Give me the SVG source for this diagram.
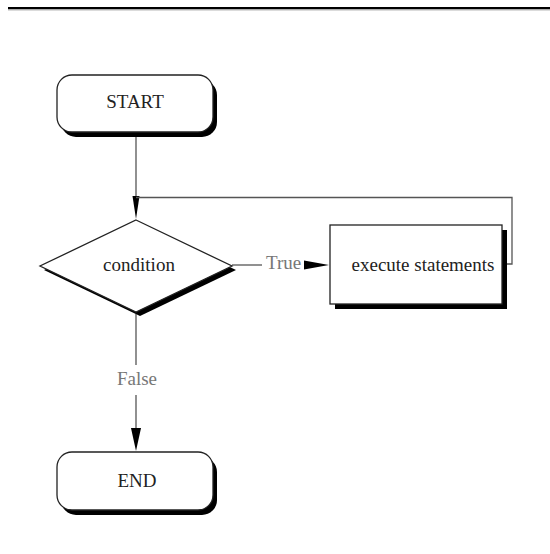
<svg xmlns="http://www.w3.org/2000/svg" width="550" height="554" viewBox="0 0 550 554">
  <style>
    .shadow { fill: #000; stroke: none; }
    .box { fill: #fff; stroke: #222; stroke-width: 1.3; }
    .label { font-family: "Liberation Serif", "Times New Roman", serif; font-size: 19px; fill: #222; text-anchor: middle; }
    .cond { font-family: "Liberation Serif", "Times New Roman", serif; font-size: 19px; fill: #777; }
    .wire { fill: none; stroke: #555; stroke-width: 1.3; }
    .head { fill: #000; stroke: none; }
  </style>

  <!-- page rule -->
  <line x1="8" y1="8" x2="550" y2="8" stroke="#000" stroke-width="2"/>
  <line x1="8" y1="9.8" x2="550" y2="9.8" stroke="#888" stroke-width="1"/>

  <g id="connectors">
    <!-- START to condition -->
    <line class="wire" x1="136" y1="132" x2="136" y2="200"/>
    <polygon class="head" points="132.5,196 139.5,196 136,219"/>
    <!-- loop back from statements to condition -->
    <polyline class="wire" points="506,264 512,264 512,197.5 136,197.5"/>
    <!-- True branch -->
    <line class="wire" x1="232" y1="265" x2="262" y2="265" stroke="#777"/>
    <polygon class="head" points="304,260.5 304,269.5 329,265"/>
    <!-- False branch -->
    <line class="wire" x1="136" y1="314" x2="136" y2="365" stroke="#777"/>
    <line class="wire" x1="136" y1="395" x2="136" y2="430" stroke="#777"/>
    <polygon class="head" points="131,428 141,428 136,451"/>
    <text class="cond" x="266" y="269">True</text>
    <text class="cond" x="137" y="385" text-anchor="middle">False</text>
  </g>

  <g id="start">
    <rect class="shadow" x="61" y="80" width="156" height="57" rx="15"/>
    <rect class="box" x="57" y="75" width="156" height="57" rx="15"/>
    <text class="label" x="135" y="108">START</text>
  </g>

  <g id="condition">
    <polygon class="shadow" points="140,224 236,270 140,316 44,270"/>
    <polygon class="box" points="136,220 232,266 136,312 40,266"/>
    <text class="label" x="139" y="271">condition</text>
  </g>

  <g id="statements">
    <rect class="shadow" x="335" y="230" width="172" height="79"/>
    <rect class="box" x="330" y="225" width="172" height="79"/>
    <text class="label" x="423" y="271">execute statements</text>
  </g>

  <g id="end">
    <rect class="shadow" x="61" y="457" width="156" height="58" rx="15"/>
    <rect class="box" x="57" y="452" width="156" height="58" rx="15"/>
    <text class="label" x="137" y="487">END</text>
  </g>
</svg>
